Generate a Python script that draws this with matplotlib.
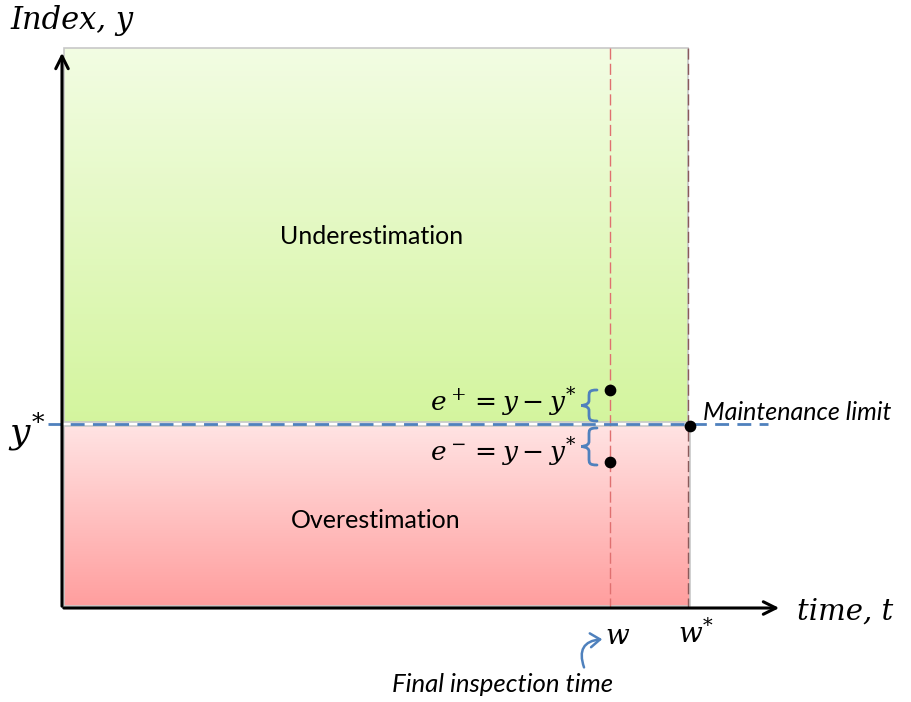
import numpy as np
import matplotlib
matplotlib.use('Agg')
import matplotlib.pyplot as plt
from matplotlib.patches import Rectangle, FancyArrowPatch, PathPatch
from matplotlib.path import Path

# Diagram geometry (pixel-like units, y grows downwards)
x_origin = 62
y_origin = 608
x_axis_end = 782
y_axis_end = 50
region_top = 48
region_right = 688
y_star = 424
w = 610
w_star = 688
e_plus_y = 390
e_minus_y = 462

region_labels = ['Underestimation', 'Overestimation']
region_label_x = [372, 376]
region_label_y = [237, 520]
green_top, green_bottom = (0.95, 0.99, 0.89), (0.83, 0.96, 0.62)
pink_top, pink_bottom = (1.0, 0.89, 0.89), (1.0, 0.62, 0.62)

plt.rcParams['mathtext.fontset'] = 'dejavuserif'

fig = plt.figure(figsize=(9.12, 7.02), dpi=100)
ax = fig.add_axes([0, 0, 1, 1])
ax.set_xlim(0, 912)
ax.set_ylim(702, 0)
ax.axis('off')


def gradient(ax, x0, x1, y0, y1, c_top, c_bottom):
    n = 256
    t = np.linspace(0, 1, n)[:, None]
    img = (1 - t) * np.array(c_top) + t * np.array(c_bottom)
    img = np.repeat(img[:, None, :], 2, axis=1)
    ax.imshow(img, extent=[x0, x1, y1, y0], aspect='auto', zorder=1,
              interpolation='bilinear')
    ax.add_patch(Rectangle((x0, y0), x1 - x0, y1 - y0, fill=False,
                           ec='#c8c8c8', lw=1.2, zorder=2))


def brace(ax, x, y0, y1, width, color):
    # curly brace opening to the right, tip pointing left
    ym = (y0 + y1) / 2
    h = width / 2
    verts = [(x + h, y0),
             (x, y0), (x, y0 + 2), (x, y0 + 7),
             (x, ym - 5),
             (x, ym), (x - h, ym), (x - h, ym),
             (x - h, ym), (x, ym), (x, ym + 5),
             (x, y1 - 7),
             (x, y1 - 2), (x, y1), (x + h, y1)]
    codes = [Path.MOVETO,
             Path.CURVE4, Path.CURVE4, Path.CURVE4,
             Path.LINETO,
             Path.CURVE4, Path.CURVE4, Path.CURVE4,
             Path.CURVE4, Path.CURVE4, Path.CURVE4,
             Path.LINETO,
             Path.CURVE4, Path.CURVE4, Path.CURVE4]
    ax.add_patch(PathPatch(Path(verts, codes), fill=False, ec=color, lw=2.0,
                           zorder=5, capstyle='round'))


# Regions
gradient(ax, x_origin + 2, region_right, region_top, y_star - 2, green_top, green_bottom)
gradient(ax, x_origin + 2, region_right + 2, y_star + 2, y_origin - 2, pink_top, pink_bottom)

for label, lx, ly in zip(region_labels, region_label_x, region_label_y):
    ax.text(lx, ly, label, fontsize=18, family='Lato', ha='center',
            va='center', zorder=6)

# Vertical markers
ax.plot([w, w], [region_top, y_origin], ls=(0, (8, 3)), color='#e07070',
        lw=1.0, zorder=3)
ax.plot([w_star, w_star], [region_top, y_origin], ls=(0, (8, 3)), color='#8a5a5a',
        lw=1.0, zorder=3)

# Maintenance limit line
ax.plot([x_origin - 14, 768], [y_star, y_star], ls=(0, (5, 3)), color='#4f81bd',
        lw=2.0, zorder=4)

# Axes arrows
ax.annotate('', xy=(x_origin, y_axis_end), xytext=(x_origin, y_origin + 1),
            arrowprops=dict(arrowstyle='->,head_length=0.9,head_width=0.45',
                            lw=2.2, color='black'), zorder=7)
ax.annotate('', xy=(x_axis_end, y_origin), xytext=(x_origin - 1, y_origin),
            arrowprops=dict(arrowstyle='->,head_length=0.9,head_width=0.45',
                            lw=2.2, color='black'), zorder=7)

# Points
ax.scatter([w, w, w_star + 2], [e_plus_y, e_minus_y, y_star + 2], s=55,
           color='black', zorder=8)

# Braces
brace(ax, 589, e_plus_y, y_star - 3, 16, '#4f81bd')
brace(ax, 589, y_star + 4, e_minus_y + 3, 16, '#4f81bd')

ax.text(576, 402, r'$e^+ = y - y^{*}$', fontsize=19, ha='right', va='center',
        zorder=6)
ax.text(576, 452, r'$e^- = y - y^{*}$', fontsize=19, ha='right', va='center',
        zorder=6)

# Axis labels
ax.text(10, 20, 'Index, y', fontsize=22, family='DejaVu Serif', style='italic',
        ha='left', va='center')
ax.text(797, 612, 'time, t', fontsize=21, family='DejaVu Serif', style='italic',
        ha='left', va='center')
ax.text(8, 432, r'$y^{*}$', fontsize=26, ha='left', va='center')
ax.text(w + 8, 636, r'$w$', fontsize=20, ha='center', va='center')
ax.text(w_star + 8, 634, r'$w^{*}$', fontsize=20, ha='center', va='center')
ax.text(703, 413, 'Maintenance limit', fontsize=18, family='Lato',
        style='italic', ha='left', va='center')
ax.text(503, 684, 'Final inspection time', fontsize=18.5, family='Lato',
        style='italic', ha='center', va='center')

# Curved pointer to w
ax.add_patch(FancyArrowPatch((585, 670), (605, 639),
                             connectionstyle='arc3,rad=-0.7',
                             arrowstyle='->,head_length=7,head_width=5',
                             color='#4f81bd', lw=1.8, zorder=6))

fig.savefig('out.png', dpi=100)
